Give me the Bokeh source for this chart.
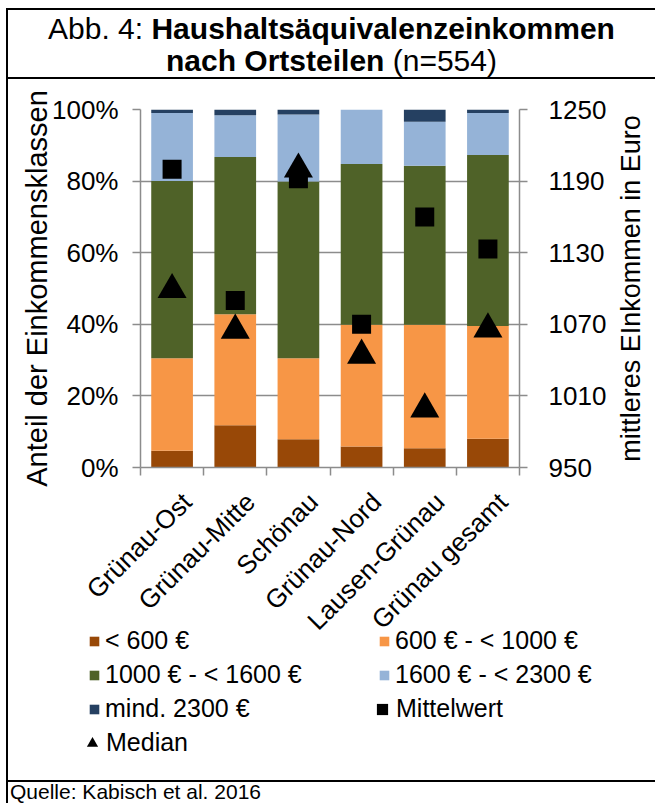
import math

from bokeh.core.properties import value
from bokeh.embed import file_html
from bokeh.layouts import column, row
from bokeh.models import (ColumnDataSource, Div, FixedTicker, Label, Legend, LegendItem, LinearAxis,
                          PrintfTickFormatter, Range1d)
from bokeh.plotting import figure
from bokeh.resources import INLINE

# --- data -------------------------------------------------------------------
districts = ["Grünau-Ost", "Grünau-Mitte", "Schönau", "Grünau-Nord", "Lausen-Grünau", "Grünau gesamt"]
income_classes = ["< 600 €", "600 € - < 1000 €", "1000 € - < 1600 €", "1600 € - < 2300 €", "mind. 2300 €"]

# share of households per income class, in percent
share_lt600 = [4.7, 11.8, 7.9, 5.9, 5.4, 8.0]
share_600_1000 = [25.8, 31.0, 22.6, 34.0, 34.5, 31.5]
share_1000_1600 = [49.5, 43.9, 49.4, 44.9, 44.4, 47.8]
share_1600_2300 = [19.0, 11.7, 18.7, 15.2, 12.3, 11.7]
share_2300plus = [1.0, 1.6, 1.4, 0.0, 3.4, 1.0]

# equivalised income in euro
mittelwert = [1200, 1090, 1192, 1070, 1160, 1133]
median = [1099, 1065, 1200, 1044, 999, 1066]

pct_ticks = [0, 20, 40, 60, 80, 100]
euro_ticks = [950, 1010, 1070, 1130, 1190, 1250]

# --- styling ----------------------------------------------------------------
FONT = "Liberation Sans"
GRAY = "#8c8c8c"
class_colors = ["#984807", "#F79646", "#4F6228", "#95B3D7", "#254061"]
stack_keys = ["lt600", "b600", "b1000", "b1600", "ge2300"]
n = len(districts)

src = ColumnDataSource(dict(
    x=[i + 0.5 for i in range(n)],
    district=districts,
    lt600=share_lt600,
    b600=share_600_1000,
    b1000=share_1000_1600,
    b1600=share_1600_2300,
    ge2300=share_2300plus,
    mean=mittelwert,
    median=median,
))

# --- main chart ---------------------------------------------------------------
BORDER_L, BORDER_R, BORDER_T, BORDER_B = 132, 95, 30, 20
MAIN_W, MAIN_H = 606, 30 + 358 + 20
FRAME_W = MAIN_W - BORDER_L - BORDER_R

p = figure(width=MAIN_W, height=MAIN_H,
           x_range=Range1d(0, n), y_range=Range1d(0, 100),
           output_backend="svg", toolbar_location=None,
           min_border_left=BORDER_L, min_border_right=BORDER_R,
           min_border_top=BORDER_T, min_border_bottom=BORDER_B,
           outline_line_color=None)
p.extra_y_ranges = {"euro": Range1d(euro_ticks[0], euro_ticks[-1])}

# grid
p.xgrid.grid_line_color = None
p.ygrid.ticker = FixedTicker(ticks=pct_ticks)
p.ygrid.grid_line_color = GRAY
p.ygrid.grid_line_width = 1.5

# left axis (percent)
yax = p.yaxis[0]
yax.ticker = FixedTicker(ticks=pct_ticks)
yax.formatter = PrintfTickFormatter(format="%d%%")
yax.axis_label = "Anteil der Einkommensklassen"
yax.axis_label_text_font = FONT
yax.axis_label_text_font_size = "29px"
yax.axis_label_text_font_style = "normal"
yax.axis_label_text_color = "black"
yax.axis_label_standoff = -4
yax.major_label_text_font = FONT
yax.major_label_text_font_size = "26px"
yax.major_label_text_color = "black"
yax.major_label_standoff = 14
yax.major_tick_out = 8
yax.major_tick_in = 0
yax.minor_tick_line_color = None
yax.axis_line_color = GRAY
yax.axis_line_width = 1.5
yax.major_tick_line_color = GRAY
yax.major_tick_line_width = 1.5

# right axis (euro); its title sits in a narrow panel next to the chart
rax = LinearAxis(y_range_name="euro", ticker=FixedTicker(ticks=euro_ticks))
rax.major_label_text_font = FONT
rax.major_label_text_font_size = "26px"
rax.major_label_text_color = "black"
rax.major_label_standoff = 21
rax.major_tick_out = 8
rax.major_tick_in = 0
rax.minor_tick_line_color = None
rax.axis_line_color = GRAY
rax.axis_line_width = 1.5
rax.major_tick_line_color = GRAY
rax.major_tick_line_width = 1.5
p.add_layout(rax, "right")

# bottom axis: only the tick marks between the bars; names are set below the chart
xax = p.xaxis[0]
xax.ticker = FixedTicker(ticks=[], minor_ticks=list(range(n + 1)))
xax.major_label_standoff = 0
xax.major_tick_line_color = None
xax.major_tick_out = 0
xax.major_tick_in = 0
xax.minor_tick_line_color = GRAY
xax.minor_tick_line_width = 1.5
xax.minor_tick_out = 8
xax.minor_tick_in = 0
xax.axis_line_color = GRAY
xax.axis_line_width = 1.5

# stacked bars
BAR_STYLE = dict(width=0.66, fill_color=class_colors, line_color=None)
p.vbar_stack(stack_keys, x="x", source=src, **BAR_STYLE)

# mean and median markers on the euro scale
MEAN_STYLE = dict(marker="square", fill_color="black", line_color=None)
MEDIAN_STYLE = dict(marker="triangle", fill_color="black", line_color=None)
p.scatter("x", "mean", y_range_name="euro", size=19, source=src, **MEAN_STYLE)
p.scatter("x", "median", y_range_name="euro", size=29, source=src, **MEDIAN_STYLE)

# --- right axis title panel ---------------------------------------------------
LAB_W = 41
lab = figure(width=LAB_W, height=MAIN_H, x_range=Range1d(0, LAB_W), y_range=Range1d(0, 100),
             output_backend="svg", toolbar_location=None,
             x_axis_location=None, y_axis_location=None, outline_line_color=None,
             min_border_left=0, min_border_right=0,
             min_border_top=BORDER_T, min_border_bottom=BORDER_B)
lab.grid.visible = False
lab.add_layout(Label(x=16, y=50, text="mittleres EInkommen in Euro", angle=math.pi / 2,
                     text_align="center", text_baseline="middle", text_font=FONT,
                     text_font_size="27px", text_color="black"))

# --- lower panel: district names and legend -------------------------------------
BODY_H = 701
LOW_W, LOW_H = MAIN_W + LAB_W, BODY_H - MAIN_H
unit = FRAME_W / n  # pixels per category, same as in the chart above
low = figure(width=LOW_W, height=LOW_H,
             x_range=Range1d(-BORDER_L / unit, (LOW_W - BORDER_L) / unit),
             y_range=Range1d(LOW_H, 0),
             output_backend="svg", toolbar_location=None,
             x_axis_location=None, y_axis_location=None, outline_line_color=None, min_border=0)
low.grid.visible = False

low.text(x="x", y=0, text="district", source=src, angle=math.pi / 4,
         text_align="right", text_baseline="middle", x_offset=15, y_offset=10,
         text_font=value(FONT), text_font_size="26px", text_color="black")

# legend keys: the same series, drawn against a range that lies outside the panel
low.extra_x_ranges = {"keys": Range1d(-2 * n, -n)}
swatches = low.vbar_stack(stack_keys, x="x", source=src, x_range_name="keys", **BAR_STYLE)
mean_key = low.scatter("x", "mean", size=12, source=src, x_range_name="keys", **MEAN_STYLE)
median_key = low.scatter("x", "median", size=12, source=src, x_range_name="keys", **MEDIAN_STYLE)


def add_legend(items, loc, glyph):
    lg = Legend(items=items, location=loc, orientation="vertical")
    lg.glyph_width = glyph
    lg.glyph_height = glyph
    lg.label_standoff = 5 if glyph < 20 else 0
    lg.label_text_font = FONT
    lg.label_text_font_size = "25px"
    lg.label_text_color = "black"
    lg.label_height = 29
    lg.spacing = 5
    lg.padding = 0
    lg.margin = 0
    lg.border_line_color = None
    lg.background_fill_alpha = 0
    low.add_layout(lg, "center")


class_items = [LegendItem(label=c, renderers=[r]) for c, r in zip(income_classes, swatches)]
add_legend([class_items[0], class_items[2], class_items[4]], (80, 57), 12)
add_legend([class_items[1], class_items[3]], (370, 91), 12)
add_legend([LegendItem(label="Mittelwert", renderers=[mean_key])], (360, 57), 28)
add_legend([LegendItem(label="Median", renderers=[median_key])], (70, 23), 28)

# --- frame, title and source line -------------------------------------------
title = Div(
    text=(
        '<div style="box-sizing:border-box;margin:8px 0 0 6px;width:649px;height:71px;'
        'border-top:2px solid #000;border-left:2px solid #000;border-bottom:2px solid #000;'
        'padding-top:3px;text-align:center;font-family:\'Liberation Sans\',Arial,sans-serif;'
        'font-size:30px;line-height:32px;color:#000;white-space:nowrap;">'
        'Abb. 4: <b>Haushaltsäquivalenzeinkommen<br>nach Ortsteilen</b> (n=554)</div>'
    ),
    width=655, height=79, margin=0,
)
left_rule = Div(
    text=f'<div style="margin-left:6px;width:2px;height:{BODY_H}px;background:#000;"></div>',
    width=8, height=BODY_H, margin=0,
)
source_note = Div(
    text=(
        '<div style="box-sizing:border-box;margin-left:6px;width:649px;height:23px;'
        'border-top:2px solid #000;border-left:2px solid #000;padding-left:2px;'
        'font-family:\'Liberation Sans\',Arial,sans-serif;font-size:21px;line-height:19px;'
        'white-space:nowrap;color:#000;">Quelle: Kabisch et al. 2016</div>'
    ),
    width=655, height=23, margin=0,
)

body = column(row(p, lab, spacing=0), low, spacing=0)
page = column(title, row(left_rule, body, spacing=0), source_note, spacing=0)

open("out.html", "w").write(file_html(page, INLINE))
